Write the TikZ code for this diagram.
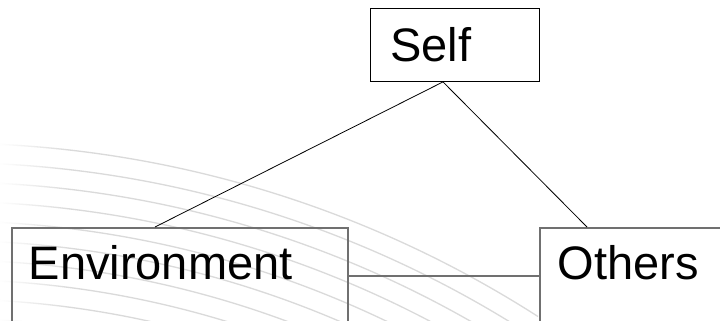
\documentclass[tikz,border=0pt]{standalone}
\usepackage{fontspec}
\setmainfont{Liberation Sans}
\usetikzlibrary{calc,fadings}
\definecolor{framegray}{HTML}{707070}
\definecolor{swirl}{HTML}{DADADA}
\tikzset{
  word/.style={font=\fontsize{47}{56}\selectfont, text=black, align=left},
  topbox/.style={draw=black, line width=0.9pt, fill=white, word, anchor=north west},
  lowbox/.style={draw=framegray, line width=1.5pt, word, anchor=north west,
                 text height=34pt, text depth=26pt},
  thinlink/.style={draw=black, line width=0.8pt},
  thicklink/.style={draw=framegray, line width=1.5pt},
  arcline/.style={draw=swirl, line width=1.3pt}
}
\begin{document}
\begin{tikzpicture}[x=1pt, y=-1pt]
  \useasboundingbox (0,0) rectangle (720,321);
  \clip (0,0) rectangle (720,321);
  \fill[white] (0,0) rectangle (720,321);

  % faint concentric background arcs
  \coordinate (ctr) at (-54,1240);
  \foreach \k in {0,...,9}{
    \pgfmathsetmacro{\r}{1097-19.5*\k}
    \pgfmathsetmacro{\ta}{acos(54/\r)}
    \pgfmathsetmacro{\tb}{acos(592/\r)}
    \draw[arcline] ([shift={(\ta:\r pt)}]ctr) arc[start angle=\ta, end angle=\tb, radius=\r pt];
  }
  % soften the arcs toward the left edge
  \fill[white, path fading=east] (0,120) rectangle (70,321);

  % boxes
  \node[topbox, minimum width=169pt, minimum height=73pt,
        text width=129pt, inner xsep=20pt] (self) at (370,8) {Self};
  \node[lowbox, minimum width=336pt, minimum height=96pt,
        text width=302pt, inner xsep=17pt] (env) at (11,227) {Environment};
  \node[lowbox, minimum width=200pt, minimum height=96pt,
        text width=164pt, inner xsep=18pt] (others) at (539,227) {Others};

  % connectors
  \draw[thinlink] ([xshift=73pt]self.south west) -- ([xshift=144pt]env.north west);
  \draw[thinlink] ([xshift=73pt]self.south west) -- ([xshift=48pt]others.north west);
  \draw[thicklink] (env.east) -- (others.west);
\end{tikzpicture}
\end{document}
